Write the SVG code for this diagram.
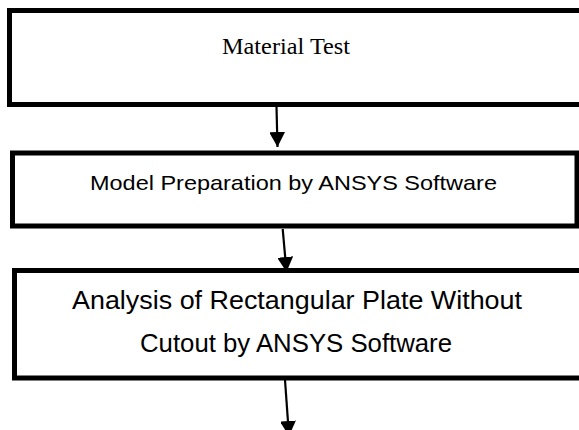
<svg xmlns="http://www.w3.org/2000/svg" width="579" height="430" viewBox="0 0 579 430">
<style>
.box{fill:#fff;stroke:#000;stroke-width:5}
.serif{font-family:"Liberation Serif","Times New Roman",serif;fill:#000}
.sans{font-family:"Liberation Sans",Arial,sans-serif;fill:#000}
.conn{stroke:#000;stroke-width:2.2;fill:none}
</style>
<defs>
<marker id="ah" markerUnits="userSpaceOnUse" markerWidth="16" markerHeight="15" refX="15" refY="8" orient="auto">
<path d="M0,0 L15,8 L0,16 Z" fill="#000"/>
</marker>
</defs>
<rect width="579" height="430" fill="#fff"/>
<g id="node-material-test">
<rect class="box" x="9.5" y="10.5" width="600" height="94"/>
<text class="serif" x="286" y="54" font-size="24" text-anchor="middle" textLength="128" lengthAdjust="spacingAndGlyphs">Material Test</text>
</g>
<g id="node-model-preparation">
<rect class="box" x="12.5" y="153" width="564.5" height="73"/>
<text class="sans" x="293.5" y="190" font-size="21" text-anchor="middle" textLength="407" lengthAdjust="spacingAndGlyphs">Model Preparation by ANSYS Software</text>
</g>
<g id="node-analysis">
<rect class="box" x="14.5" y="270.5" width="567" height="107.5"/>
<text class="sans" x="297" y="309" font-size="26" text-anchor="middle" textLength="450" lengthAdjust="spacingAndGlyphs">Analysis of Rectangular Plate Without</text>
<text class="sans" x="296" y="352" font-size="26" text-anchor="middle" textLength="312" lengthAdjust="spacingAndGlyphs">Cutout by ANSYS Software</text>
</g>
<g id="connectors">
<line class="conn" x1="276.5" y1="107" x2="277.5" y2="147" marker-end="url(#ah)"/>
<line class="conn" x1="282.7" y1="229" x2="286.5" y2="272" marker-end="url(#ah)"/>
<line class="conn" x1="285" y1="380" x2="289" y2="436" marker-end="url(#ah)"/>
</g>
</svg>
